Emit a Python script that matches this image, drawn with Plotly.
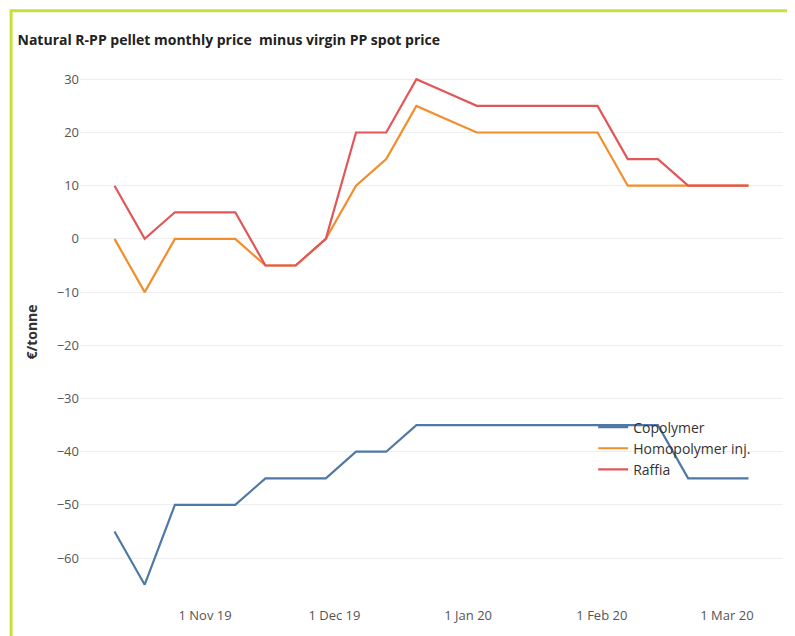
import plotly.graph_objects as go

dates = ["2019-10-11","2019-10-18","2019-10-25","2019-11-01","2019-11-08","2019-11-15","2019-11-22","2019-11-29",
         "2019-12-06","2019-12-13","2019-12-20","2019-12-27","2020-01-03","2020-01-10","2020-01-17","2020-01-24",
         "2020-01-31","2020-02-07","2020-02-14","2020-02-21","2020-02-28","2020-03-06"]
copolymer = [-55,-65,-50,-50,-50,-45,-45,-45,-40,-40,-35,-35,-35,-35,-35,-35,-35,-35,-35,-45,-45,-45]
homopolymer = [0,-10,0,0,0,-5,-5,0,10,15,25,22.5,20,20,20,20,20,10,10,10,10,10]
raffia = [10,0,5,5,5,-5,-5,0,20,20,30,27.5,25,25,25,25,25,15,15,10,10,10]
tick_vals = ["2019-11-01","2019-12-01","2020-01-01","2020-02-01","2020-03-01"]
tick_text = ["1 Nov 19","1 Dec 19","1 Jan 20","1 Feb 20","1 Mar 20"]

fig = go.Figure()
for name, ys, c in [("Copolymer", copolymer, "#4e79a7"), ("Homopolymer inj.", homopolymer, "#f28e2b"), ("Raffia", raffia, "#e15759")]:
    fig.add_trace(go.Scatter(x=dates, y=ys, name=name, mode="lines", line=dict(color=c, width=2.2)))

fig.update_layout(
    width=795, height=636, paper_bgcolor="white", plot_bgcolor="white",
    margin=dict(l=72, r=20, t=50, b=38),
    font=dict(family="Open Sans, DejaVu Sans", color="#333"),
    title=dict(text="<b>Natural R-PP pellet monthly price  minus virgin PP spot price</b>", x=0.012, y=0.958,
               font=dict(size=14, color="#222")),
    legend=dict(x=0.73, y=0.22, bgcolor="rgba(0,0,0,0)", font=dict(size=14, color="#333"), traceorder="normal"),
    shapes=[dict(type="rect", xref="paper", yref="paper", x0=-0.098, x1=1.024, y0=-0.064, y1=1.086,
                 line=dict(color="#c8e03c", width=3))],
)
fig.update_xaxes(tickvals=tick_vals, ticktext=tick_text, range=["2019-10-03","2020-03-14"],
                 showgrid=False, showline=False, tickfont=dict(size=13, color="#555"))
fig.update_yaxes(range=[-69, 34], dtick=10, gridcolor="#eeeeee", zeroline=False,
                 title=dict(text="<b>€/tonne</b>", font=dict(size=14, color="#333")), tickfont=dict(size=13, color="#555"))
fig.write_html("out.html")
